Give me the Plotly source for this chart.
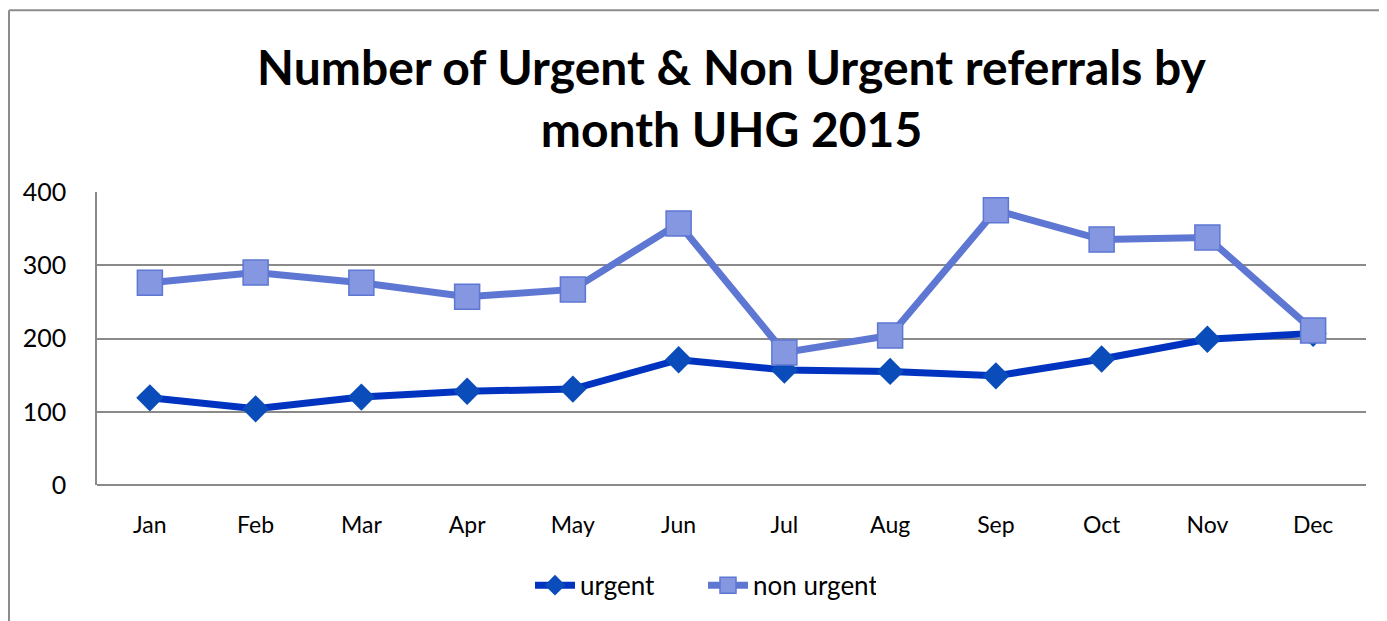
import plotly.graph_objects as go

months = ["Jan", "Feb", "Mar", "Apr", "May", "Jun", "Jul", "Aug", "Sep", "Oct", "Nov", "Dec"]
urgent = [119, 104, 120, 128, 131, 171, 157, 155, 149, 172, 199, 207]
non_urgent = [276, 290, 276, 257, 267, 357, 181, 204, 375, 335, 338, 211]
y_ticks = [0, 100, 200, 300, 400]

# page has an 8px body offset; work in screen coordinates and subtract it
OFF = 8
W, H = 1387 - OFF, 621 - OFF
L, R, T, B = 97 - OFF, 21, 192 - OFF, 134

fig = go.Figure()
fig.add_trace(go.Scatter(
    x=months, y=urgent, name="urgent", mode="lines+markers",
    line=dict(color="#0033C0", width=7),
    marker=dict(symbol="diamond", size=21, color="#0A4DBA", line=dict(color="#0A4DBA", width=0)),
))
fig.add_trace(go.Scatter(
    x=months, y=non_urgent, name="non urgent", mode="lines+markers",
    line=dict(color="#5E77D3", width=7),
    marker=dict(symbol="square", size=25, color="#8497E0", line=dict(color="#5E77D3", width=1.5)),
))

pw = W - L - R
ph = H - T - B
fx = lambda sx: (sx - OFF - L) / pw
fy = lambda sy: (H - B - (sy - OFF)) / ph

fig.update_layout(
    width=W, height=H,
    margin=dict(l=L, r=R, t=T, b=B),
    paper_bgcolor="white", plot_bgcolor="white",
    font=dict(family="Lato, 'Open Sans', sans-serif", size=22, color="#000000"),
    title=dict(
        text="<b>Number of Urgent & Non Urgent referrals by<br>month UHG 2015</b>",
        x=0.5, xref="paper", xanchor="center",
        y=1 - (85 - OFF) / H, yref="container", yanchor="middle",
        font=dict(size=48, family="Lato, sans-serif", color="#000000"),
    ),
    xaxis=dict(
        showgrid=False, showline=False, zeroline=False,
        range=[-0.5, len(months) - 0.5],
        ticks="", ticklabelstandoff=24,
        tickfont=dict(size=23),
    ),
    yaxis=dict(
        range=[0, 400], tickvals=y_ticks, showgrid=True,
        gridcolor="#8A8A8A", gridwidth=1.6,
        showline=True, linecolor="#8A8A8A", linewidth=1.6,
        zeroline=True, zerolinecolor="#8A8A8A", zerolinewidth=1.6,
        ticks="", ticklabelstandoff=24,
        tickfont=dict(size=25),
    ),
    legend=dict(
        orientation="h", x=fx(530), xanchor="left", y=fy(588), yanchor="middle",
        font=dict(size=26), itemwidth=40, tracegroupgap=0,
        entrywidth=118, entrywidthmode="pixels",
    ),
    showlegend=True,
    shapes=[
        dict(type="line", xref="paper", yref="paper",
             x0=fx(9), x1=fx(9), y0=fy(9), y1=fy(640),
             line=dict(color="#8C8C8C", width=2)),
        dict(type="line", xref="paper", yref="paper",
             x0=fx(9), x1=fx(1400), y0=fy(9), y1=fy(9),
             line=dict(color="#8C8C8C", width=2)),
    ],
)

fig.write_html("out.html")
